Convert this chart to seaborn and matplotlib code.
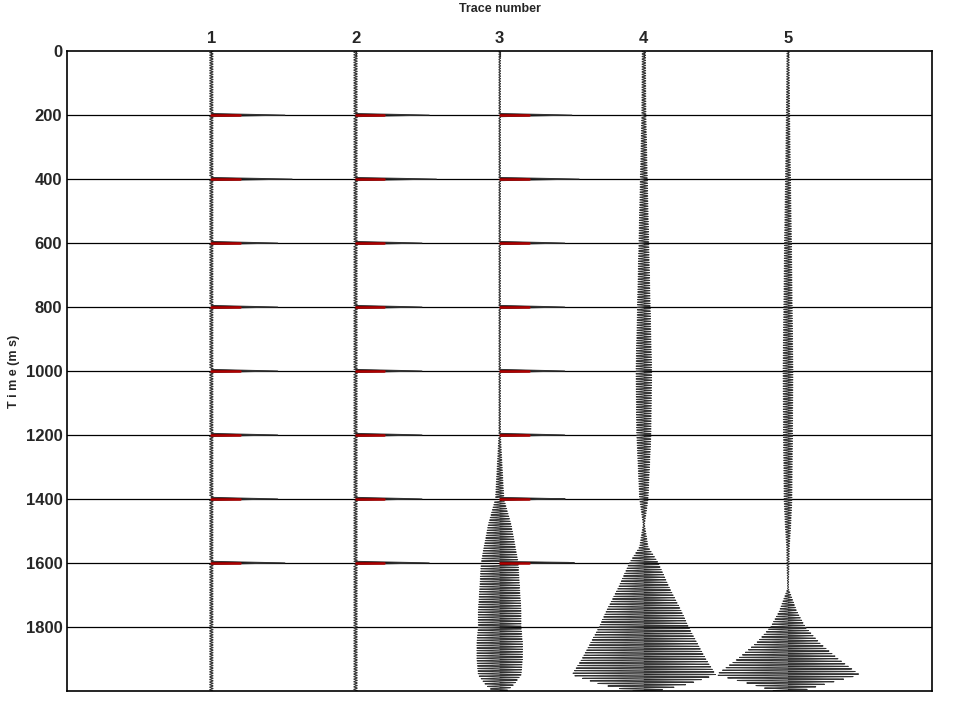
import numpy as np
import matplotlib
matplotlib.use("Agg")
import matplotlib.pyplot as plt
import seaborn as sns

sns.set_style("white")
plt.rcParams['font.family'] = ['Liberation Sans', 'DejaVu Sans']

traces = [1, 2, 3, 4, 5]
env_times = [0, 200, 400, 600, 800, 1000, 1200, 1400, 1480, 1550, 1600, 1680, 1750, 1800, 1850, 1900, 1950, 1980, 2000]
env_t1 = [0.012]*19
env_t2 = [0.012]*19
env_t3 = [0.006, 0.006, 0.006, 0.006, 0.006, 0.006, 0.006, 0.03, 0.08, 0.11, 0.13, 0.14, 0.15, 0.15, 0.16, 0.16, 0.15, 0.10, 0.05]
env_t4 = [0.012, 0.015, 0.025, 0.035, 0.045, 0.055, 0.05, 0.03, 0.005, 0.03, 0.10, 0.18, 0.26, 0.31, 0.37, 0.43, 0.50, 0.30, 0.1]
env_t5 = [0.008, 0.012, 0.018, 0.025, 0.03, 0.035, 0.032, 0.028, 0.02, 0.01, 0.008, 0.003, 0.06, 0.12, 0.22, 0.35, 0.50, 0.25, 0.1]
envelopes = [env_t1, env_t2, env_t3, env_t4, env_t5]
spike_times = [200, 400, 600, 800, 1000, 1200, 1400, 1600]
spike_amp = [0.5, 0.55, 0.45, 0.45, 0.45, 0.45, 0.45, 0.5]
spike_traces = [1, 2, 3]
carrier_period_ms = 8.0

t = np.arange(0, 2000.5, 0.5)
fig, ax = plt.subplots(figsize=(9.6, 7.1), dpi=100)
fig.subplots_adjust(left=0.07, right=0.971, top=0.928, bottom=0.027)

for tr, env in zip(traces, envelopes):
    e = np.interp(t, env_times, env)
    w = e * np.sin(2*np.pi*t/carrier_period_ms + tr)
    if tr in spike_traces:
        for st, a in zip(spike_times, spike_amp):
            w = w + a*np.clip(1 - np.abs(t-st)/5.0, 0, None)
    ax.fill_betweenx(t, tr, tr + w, where=w > 0, color="black", lw=0)
    sns.lineplot(x=tr + w, y=t, sort=False, estimator=None, orient="y", color="#333333", lw=0.7, ax=ax)
    if tr in spike_traces:
        for st in spike_times:
            ax.plot([tr, tr+0.2], [st, st], color="#b00000", lw=1.8)

ax.set_xlim(0, 6)
ax.set_ylim(2000, 0)
ax.set_yticks(range(0, 2000, 200))
ax.set_yticklabels([str(v) for v in range(0, 2000, 200)], fontweight="bold", fontsize=12)
for v in range(200, 2000, 200):
    ax.axhline(v, color="black", lw=0.9, zorder=0)
ax.xaxis.tick_top()
ax.set_xticks(traces)
ax.set_xticklabels([str(v) for v in traces], fontweight="bold", fontsize=12)
ax.tick_params(length=4, direction="in")
ax.xaxis.set_label_position("top")
ax.set_xlabel("Trace number", fontsize=9, fontweight="bold", labelpad=14)
ax.set_ylabel("T i m e (m s)", fontsize=9, fontweight="bold")
for s in ax.spines.values():
    s.set_color("black"); s.set_linewidth(1.2)
fig.savefig("out.png")
